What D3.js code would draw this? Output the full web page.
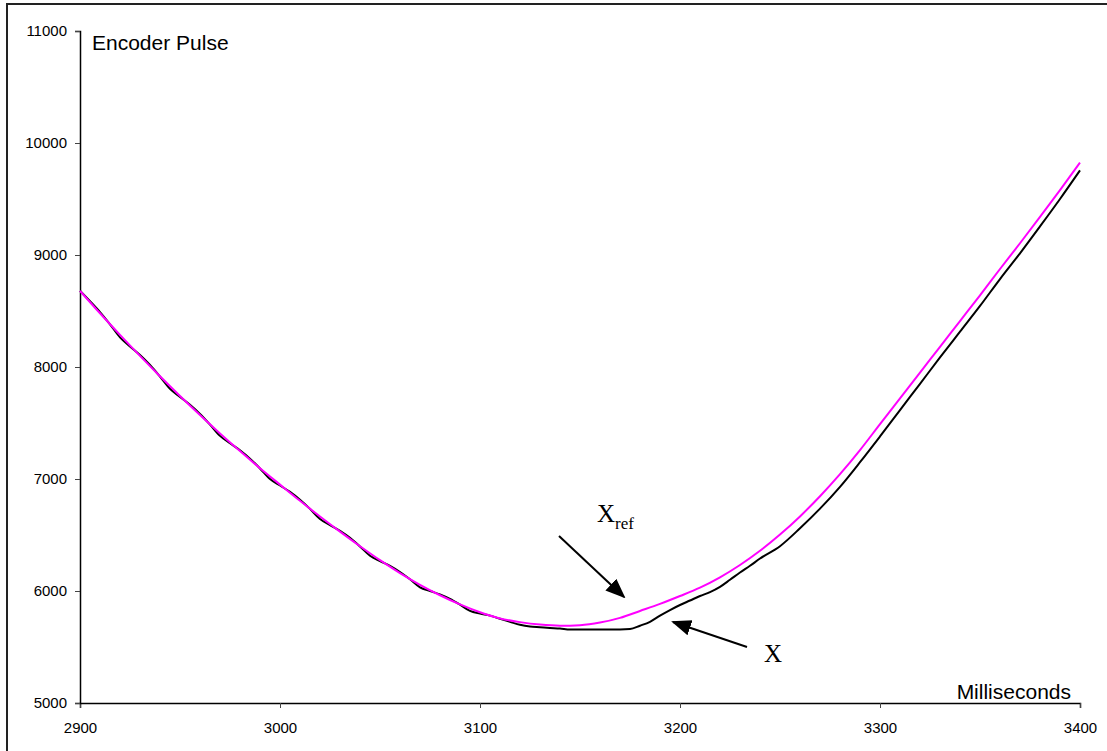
<!DOCTYPE html>
<html>
<head>
<meta charset="utf-8">
<script src="https://cdn.jsdelivr.net/npm/d3@7"></script>
<style>
  body { margin: 0; background: #fff; }
  svg { display: block; font-family: "Liberation Sans", Arial, sans-serif; }
</style>
</head>
<body>
<svg id="chart"></svg>
<script>
// tick values
let xTicks = [2900, 3000, 3100, 3200, 3300, 3400]
let yTicks = [5000, 6000, 7000, 8000, 9000, 10000, 11000]

// x_ref (magenta), every 10 ms
let refTime = [2900, 2910, 2920, 2930, 2940, 2950, 2960, 2970, 2980, 2990,
               3000, 3010, 3020, 3030, 3040, 3050, 3060, 3070, 3080, 3090,
               3100, 3110, 3120, 3130, 3140, 3150, 3160, 3170, 3180, 3190,
               3200, 3210, 3220, 3230, 3240, 3250, 3260, 3270, 3280, 3290,
               3300, 3310, 3320, 3330, 3340, 3350, 3360, 3370, 3380, 3390, 3400]
let refPulse = [8680, 8480, 8287, 8099, 7917, 7741, 7571, 7407, 7249, 7096,
                6950, 6805, 6665, 6530, 6400, 6275, 6160, 6055, 5962, 5880,
                5810, 5755, 5722, 5700, 5690, 5695, 5718, 5760, 5822, 5885,
                5955, 6030, 6122, 6232, 6359, 6504, 6666, 6846, 7043, 7258,
                7490, 7720, 7950, 8180, 8410, 8640, 8875, 9105, 9340, 9580, 9825]

// x (black), measured
let xTime = [2900, 2905, 2910, 2915, 2920, 2925, 2930, 2935, 2940, 2945,
             2950, 2955, 2960, 2965, 2970, 2975, 2980, 2985, 2990, 2995,
             3000, 3005, 3010, 3015, 3020, 3025, 3030, 3035, 3040, 3045,
             3050, 3055, 3060, 3065, 3070, 3075, 3080, 3085, 3090, 3095,
             3100, 3105, 3110, 3115, 3120, 3125, 3130, 3135, 3140, 3145,
             3150, 3160, 3170, 3175, 3180, 3185, 3190, 3195, 3200, 3205,
             3210, 3215, 3220, 3225, 3230, 3235, 3240, 3250, 3260, 3270,
             3280, 3290, 3300, 3310, 3320, 3330, 3340, 3350, 3360, 3370,
             3380, 3390, 3400]
let xPulse = [8680, 8587, 8490, 8381, 8265, 8184, 8107, 8018, 7915, 7806,
              7733, 7663, 7581, 7486, 7385, 7319, 7257, 7182, 7094, 7000,
              6942, 6885, 6815, 6733, 6643, 6589, 6538, 6475, 6398, 6315,
              6267, 6225, 6170, 6105, 6033, 6000, 5970, 5930, 5878, 5822,
              5798, 5780, 5752, 5725, 5698, 5682, 5676, 5670, 5665, 5656,
              5657, 5657, 5657, 5660, 5690, 5725, 5780, 5830, 5875, 5915,
              5955, 5990, 6037, 6100, 6165, 6225, 6290, 6400, 6560, 6735,
              6930, 7150, 7380, 7615, 7850, 8085, 8315, 8545, 8785, 9015,
              9255, 9500, 9755]

let svg = d3.select("#chart")
            .attr("width", 1107)
            .attr("height", 751)

// outer frame
svg.append("rect")
    .attr("x", 7).attr("y", 4)
    .attr("width", 1120).attr("height", 770)
    .attr("fill", "none")
    .attr("stroke", "#222")
    .attr("stroke-width", 2)

let x = d3.scaleLinear().domain([2900, 3400]).range([80, 1080])
let y = d3.scaleLinear().domain([5000, 11000]).range([703, 31])

let xAxis = svg.append("g")
    .attr("transform", "translate(0,703)")
    .call(d3.axisBottom(x).tickValues(xTicks).tickSize(5).tickPadding(14).tickFormat(d3.format("d")))
let yAxis = svg.append("g")
    .attr("transform", "translate(80,0)")
    .call(d3.axisLeft(y).tickValues(yTicks).tickSize(5).tickPadding(8).tickFormat(d3.format("d")))

for (let ax of [xAxis, yAxis]) {
    ax.select(".domain").attr("stroke", "#000").attr("stroke-width", 1.5)
    ax.selectAll(".tick line").attr("stroke", "#444")
    ax.selectAll(".tick text").attr("fill", "#000")
        .style("font-family", "'Liberation Sans', Arial, sans-serif")
        .style("font-size", "15px")
}

// axis titles
svg.append("text")
    .attr("x", 92).attr("y", 50)
    .style("font-size", "21px")
    .text("Encoder Pulse")
svg.append("text")
    .attr("x", 1071).attr("y", 699)
    .attr("text-anchor", "end")
    .style("font-size", "21px")
    .text("Milliseconds")

let line = d3.line()
    .x(d => x(d[0]))
    .y(d => y(d[1]))
    .curve(d3.curveMonotoneX)

svg.append("path")
    .datum(xTime.map((t, i) => [t, xPulse[i]]))
    .attr("d", line)
    .attr("fill", "none")
    .attr("stroke", "#000")
    .attr("stroke-width", 2)

svg.append("path")
    .datum(refTime.map((t, i) => [t, refPulse[i]]))
    .attr("d", line)
    .attr("fill", "none")
    .attr("stroke", "#ff00ff")
    .attr("stroke-width", 2)

// arrows
svg.append("defs").append("marker")
    .attr("id", "head")
    .attr("viewBox", "0 0 10 10")
    .attr("refX", 9).attr("refY", 5)
    .attr("markerWidth", 10).attr("markerHeight", 10)
    .attr("markerUnits", "strokeWidth")
    .attr("orient", "auto")
  .append("path")
    .attr("d", "M0,1 L10,5 L0,9 Z")
    .attr("fill", "#000")

let arrows = [
    {x1: 559, y1: 536, x2: 624, y2: 597},
    {x1: 747, y1: 647, x2: 673, y2: 622}
]
svg.selectAll("line.arrow")
    .data(arrows)
    .enter()
    .append("line")
    .attr("class", "arrow")
    .attr("x1", d => d.x1).attr("y1", d => d.y1)
    .attr("x2", d => d.x2).attr("y2", d => d.y2)
    .attr("stroke", "#000")
    .attr("stroke-width", 2)
    .attr("marker-end", "url(#head)")

// labels
let refLabel = svg.append("text")
    .attr("x", 597).attr("y", 522)
    .style("font-family", "'Liberation Serif', 'Times New Roman', serif")
    .style("font-size", "25px")
refLabel.append("tspan").text("X")
refLabel.append("tspan")
    .attr("dy", 7)
    .style("font-size", "17px")
    .text("ref")

svg.append("text")
    .attr("x", 764).attr("y", 662)
    .style("font-family", "'Liberation Serif', 'Times New Roman', serif")
    .style("font-size", "25px")
    .text("X")
</script>
</body>
</html>
